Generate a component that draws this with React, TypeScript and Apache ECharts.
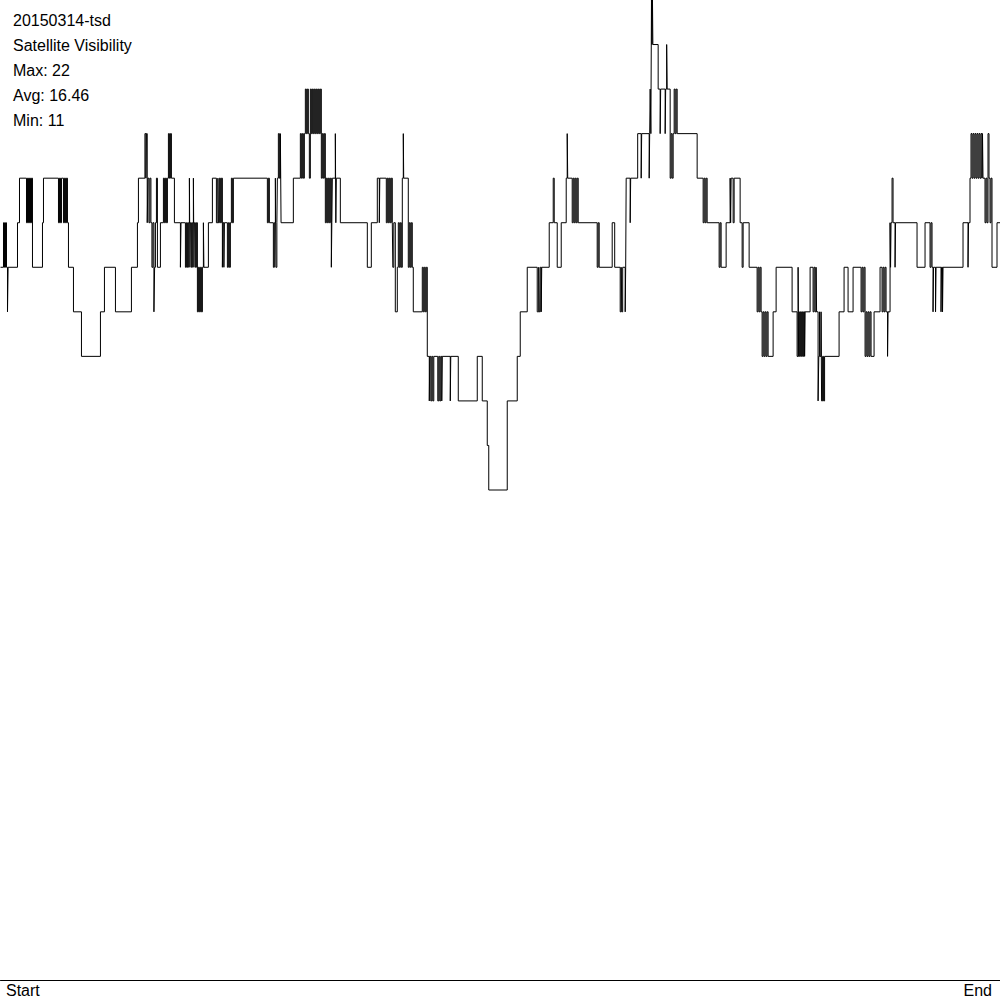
import React, { useEffect, useRef } from "react";
import * as echarts from "echarts";

const chartTitle = "20150314-tsd";
const chartSubtitle = "Satellite Visibility";
const statLabels = ["Max: 22", "Avg: 16.46", "Min: 11"];
const axisEndLabels = ["Start", "End"];
const yRange = [0, 22];
const xRange = [0, 1000];

// [time index, visible satellites] — value holds until the next point
const visibility: [number, number][] = [
  [0, 16],
  [3, 17], [4, 16], [5, 17], [6, 16], [7, 15], [7.6, 16],
  [17, 17], [19, 18],
  [26, 17], [27, 18], [28, 17], [29, 18], [30, 17], [31, 18],
  [32, 16],
  [42, 17], [43, 18],
  [58, 17], [59, 18], [60, 17], [61, 18], [63, 17], [64, 18], [65, 17], [66, 18], [67, 17],
  [68, 16], [73, 15], [81, 14], [100, 15], [104, 16], [115, 15], [131, 16], [137, 17], [138, 18],
  [144.5, 19], [145.5, 18], [146, 19], [146.8, 17], [147.5, 18], [148.5, 17], [149.5, 18], [150.5, 17],
  [151.5, 16], [152.5, 17], [153.5, 15], [154.2, 16], [155, 17], [156, 18], [157, 16],
  [160, 17], [163, 18],
  [164, 17], [165, 18], [166, 17], [167, 18],
  [168, 19], [169, 18], [170, 19], [171, 18],
  [174, 17], [180, 16], [180.6, 17],
  [185, 16], [186, 17], [187, 16], [188, 17], [189, 18], [189.5, 16], [190, 17], [191, 16], [192, 17],
  [193, 18], [193.5, 16], [194, 17], [195, 16], [196, 17],
  [197, 15], [198, 16], [199, 15], [200, 16], [201, 15], [202, 16],
  [203, 17], [203.5, 16],
  [208, 17], [212, 18], [216, 17], [217.5, 18],
  [218, 17], [219, 18], [220, 17], [221, 18], [222, 16], [222.7, 17], [223.5, 16], [224, 17],
  [227, 16], [228, 17], [229, 16], [230, 17], [231, 18], [232, 17],
  [233, 18],
  [267, 17], [268, 18], [269, 17],
  [273, 16], [274, 17], [275, 18], [275.5, 16], [276.5, 17], [277, 18],
  [278, 19], [279, 18], [280, 19], [280.7, 17],
  [293, 18],
  [300, 19], [301, 18], [302, 19], [303, 18], [304, 19],
  [305, 20], [306, 19], [307, 20], [308, 19], [309, 18], [310, 20], [311, 19], [312, 20], [313, 19],
  [314, 20], [315, 19], [316, 20], [317, 19], [318, 20], [319, 19], [320, 20],
  [321, 18], [322, 19], [323, 18], [324, 19],
  [325, 17], [326, 18], [327, 17], [328, 18], [329, 17], [330, 18], [331, 16], [331.5, 17],
  [332, 18], [335, 19], [335.5, 17], [336, 18],
  [340, 17], [367, 16], [371, 17], [377, 18], [379, 17], [379.5, 18],
  [386, 17], [387, 18], [388, 17], [389, 18], [390, 17], [391, 18], [392, 17],
  [392.5, 16], [393.5, 17], [395, 15], [397, 16], [398, 17], [399, 16],
  [400, 17], [401, 16], [402, 18], [403, 19], [403.4, 18],
  [408, 16], [409, 17], [410, 16], [411, 17], [412, 16],
  [413, 15],
  [422, 16], [423, 15], [424, 16], [425, 15], [426, 16],
  [427, 14], [429, 13], [429.5, 14], [430.5, 13], [431.5, 14], [432.5, 13], [433.5, 14],
  [437.5, 13], [438.5, 14], [439.5, 13], [440.5, 14], [441.5, 13],
  [442, 14], [450, 13], [450.5, 14],
  [458, 13], [477, 14], [482, 13], [487, 12], [488.5, 11], [507, 13], [517, 14], [520, 15], [527, 16],
  [537, 15], [538.5, 16], [539, 15], [540, 16], [541, 15],
  [541.5, 16], [549, 17], [553, 18], [554, 17], [557, 16], [561, 17], [566, 18], [567, 19], [567.5, 18],
  [572, 17], [573, 18], [574, 17], [575, 18], [576, 17], [577, 18],
  [578, 17], [597, 16], [598, 17], [599, 16],
  [612, 17], [614.5, 16],
  [620, 15], [621, 16], [621.7, 15], [622.5, 16], [625, 15], [625.5, 16],
  [626, 18], [630, 17], [630.5, 18], [637.5, 19], [641, 18], [641.5, 19],
  [649, 18], [649.5, 19], [650, 20], [650.7, 19], [651.3, 22], [651.8, 21], [652.3, 22], [652.7, 21],
  [658, 20], [660, 19], [660.5, 20], [665, 19], [665.5, 20], [666.5, 21], [667, 20],
  [670, 18], [671, 19], [672, 18], [673, 19], [674, 20], [675, 19], [676, 20], [677, 19],
  [697, 18], [703, 17], [704, 18], [705, 17], [706, 18], [707, 17],
  [719, 16], [720, 17], [721, 16], [726, 17],
  [730, 18], [730.5, 17], [731, 18], [733, 17], [734, 18], [740, 17], [742, 16], [743, 17], [749, 16],
  [757, 15], [758, 16], [759, 15], [760, 16], [761, 15], [762, 14], [763, 15], [764, 14], [765, 15],
  [766, 14], [767, 15], [768, 14],
  [773, 15], [776, 16], [792, 15], [797, 14], [798, 16], [798.5, 14], [799.5, 15], [800.5, 14],
  [801.5, 15], [802.5, 14], [803.5, 15], [804.5, 14],
  [805, 15], [810, 16], [813, 15], [814, 16], [815, 15], [816, 16],
  [816.5, 15], [818, 13], [818.7, 14], [819.5, 15], [820, 14], [821, 15], [821.5, 13], [822.5, 14],
  [823.5, 13], [824.5, 14],
  [839, 15], [844, 16], [848, 15], [853, 16],
  [861, 15], [862, 16], [863, 15], [864, 16], [865, 14], [866, 15], [867, 14], [868, 15], [869, 14],
  [870, 15], [871, 14],
  [874, 15], [880, 16], [882, 15], [883, 16], [884, 15], [885, 16], [886, 15], [887.5, 14], [888, 15],
  [890, 17], [890.5, 16], [891, 17], [892, 18], [893, 17], [895, 16], [895.5, 17],
  [917, 16], [925, 17], [930, 16], [931, 17], [932, 16], [933, 15], [933.5, 16], [935.5, 15], [936, 16],
  [941, 15], [941.5, 16], [942.5, 15], [943, 16], [963, 17], [968, 16], [968.5, 17],
  [970, 18], [971, 19], [972, 18], [973, 19], [974, 18], [975, 19], [976, 18], [977, 19], [978, 18],
  [979, 19], [980, 18], [981, 19], [982, 18], [982.5, 19], [983, 18],
  [985, 17], [986, 18], [987, 17], [988, 19], [989, 18], [990, 17], [991, 18],
  [992, 16], [997, 17], [1000, 17],
];

const FONT = "'Liberation Sans', Arial, sans-serif";

export default function App() {
  const ref = useRef<HTMLDivElement>(null);

  useEffect(() => {
    document.body.style.margin = "0";
    if (!ref.current) return;
    const chart = echarts.init(ref.current, null, { renderer: "svg" });
    const headerLines = [chartTitle, chartSubtitle, ...statLabels];
    chart.setOption({
      animation: false,
      backgroundColor: "#ffffff",
      grid: { left: 0.5, right: -0.5, top: 0, bottom: 20, containLabel: false },
      xAxis: {
        type: "value",
        min: xRange[0],
        max: xRange[1],
        axisLine: { show: true, onZero: false, lineStyle: { color: "#000", width: 1 } },
        axisTick: { show: false },
        axisLabel: { show: false },
        splitLine: { show: false },
      },
      yAxis: {
        type: "value",
        min: yRange[0],
        max: yRange[1],
        show: false,
        splitLine: { show: false },
      },
      series: [
        {
          type: "line",
          step: "end",
          data: visibility,
          showSymbol: false,
          symbol: "none",
          lineStyle: { color: "#000", width: 1 },
          clip: false,
        },
      ],
      graphic: [
        ...headerLines.map((t, i) => ({
          type: "text",
          left: 13,
          top: 12 + i * 25,
          style: { text: t, fill: "#000", font: `16px ${FONT}` },
        })),
        {
          type: "text",
          left: 6,
          top: 982,
          style: { text: axisEndLabels[0], fill: "#000", font: `16px ${FONT}` },
        },
        {
          type: "text",
          right: 8,
          top: 982,
          style: { text: axisEndLabels[1], fill: "#000", font: `16px ${FONT}` },
        },
      ],
    });
    return () => chart.dispose();
  }, []);

  return (
    <div
      ref={ref}
      style={{ position: "absolute", left: 0, top: 0, width: 1000, height: 1000 }}
    />
  );
}
